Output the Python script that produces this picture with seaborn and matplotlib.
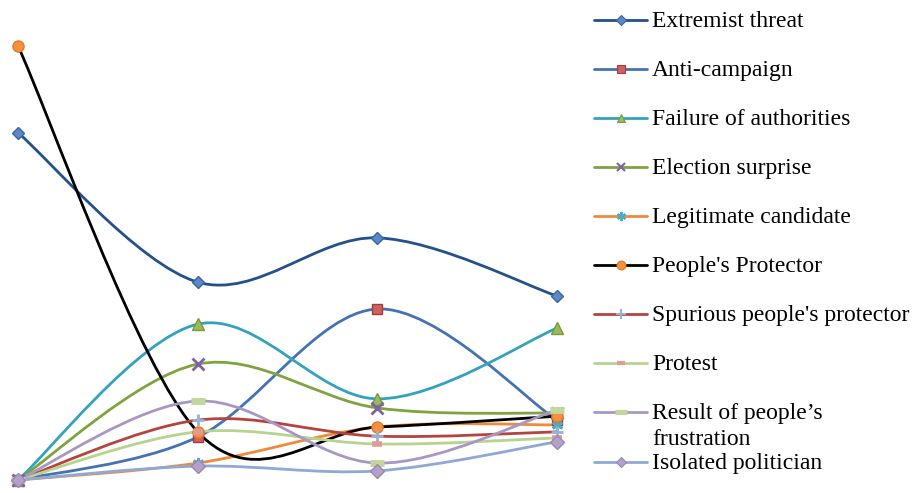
import numpy as np
import pandas as pd
import matplotlib
matplotlib.use('Agg')
import matplotlib.pyplot as plt
from matplotlib.path import Path
from matplotlib.patches import PathPatch
from matplotlib.lines import Line2D
import seaborn as sns

# four stages along the x axis (no tick labels in the original)
stages = [0, 1, 2, 3]

series_names = [
    "Extremist threat",
    "Anti-campaign",
    "Failure of authorities",
    "Election surprise",
    "Legitimate candidate",
    "People's Protector",
    "Spurious people's protector",
    "Protest",
    "Result of people\u2019s\nfrustration",
    "Isolated politician",
]

extremist_threat = [80.0, 45.6, 55.8, 42.4]
anti_campaign = [0.0, 9.9, 39.4, 13.8]
failure_of_authorities = [0.0, 35.9, 18.7, 35.0]
election_surprise = [0.0, 26.7, 16.6, 15.4]
legitimate_candidate = [0.0, 3.9, 12.2, 12.7]
peoples_protector = [100.0, 11.1, 12.2, 14.7]
spurious_protector = [0.0, 13.8, 10.1, 11.1]
protest = [0.0, 11.1, 8.3, 9.7]
peoples_frustration = [0.0, 18.2, 3.9, 16.1]
isolated_politician = [0.0, 3.2, 2.1, 8.8]

values = [extremist_threat, anti_campaign, failure_of_authorities, election_surprise,
          legitimate_candidate, peoples_protector, spurious_protector, protest,
          peoples_frustration, isolated_politician]

# line colour, marker, marker face, marker edge, marker size, marker edge width
styles = [
    ('#24508C', 'D', '#5B88C6', '#3A659F', 6, 1.0),
    ('#4472B2', 's', '#D0605C', '#A63C39', 7, 1.0),
    ('#33A2BC', '^', '#9BBB59', '#7A9A3E', 8, 1.0),
    ('#7FA43F', 'x', '#7E62A3', '#7E62A3', 8, 2.0),
    ('#F08A3A', (6, 2, 0), '#4BACC6', '#4BACC6', 8, 2.0),
    ('#000000', 'o', '#F5913E', '#E07B2A', 8, 1.0),
    ('#B5443F', '+', '#95B3D7', '#95B3D7', 9, 2.0),
    ('#B7D38E', '_', '#E09A98', '#E09A98', 7, 4.0),
    ('#A897C4', '_', '#C3D69B', '#C3D69B', 10, 5.0),
    ('#8FA9D6', 'D', '#B3A2C7', '#9A87B5', 7, 1.0),
]

df = pd.DataFrame({
    'stage': stages * len(series_names),
    'value': [v for vals in values for v in vals],
    'series': [name for name in series_names for _ in stages],
})


def smooth_path(xs, ys):
    # Excel-like smoothed line: cubic bezier through the points
    pts = np.column_stack([xs, ys]).astype(float)
    n = len(pts)
    verts = [pts[0]]
    codes = [Path.MOVETO]
    for i in range(n - 1):
        p0 = pts[i - 1] if i > 0 else pts[i]
        p1 = pts[i]
        p2 = pts[i + 1]
        p3 = pts[i + 2] if i + 2 < n else pts[i + 1]
        verts += [p1 + (p2 - p0) / 6.0, p2 - (p3 - p1) / 6.0, p2]
        codes += [Path.CURVE4] * 3
    return Path(verts, codes)


sns.set_style('white')
plt.rcParams['font.family'] = ['Liberation Serif', 'DejaVu Serif']

W, H = 918, 493
fig = plt.figure(figsize=(W / 100, H / 100), dpi=100)
ax = fig.add_axes([18 / W, 13 / H, 539 / W, 434 / H])
ax.set_xlim(0, 3)
ax.set_ylim(0, 100)
ax.axis('off')

for k, name in enumerate(series_names):
    color = styles[k][0]
    sub = df[df['series'] == name]
    patch = PathPatch(smooth_path(sub['stage'], sub['value']), facecolor='none',
                      edgecolor=color, lw=2.0, zorder=2, clip_on=False, capstyle='round')
    ax.add_patch(patch)

for k, name in enumerate(series_names):
    color, mk, mfc, mec, ms, mew = styles[k]
    sub = df[df['series'] == name]
    sns.lineplot(data=sub, x='stage', y='value', ax=ax, linestyle='', marker=mk,
                 markersize=ms, markerfacecolor=mfc, markeredgecolor=mec,
                 markeredgewidth=mew, color=mfc, clip_on=False, zorder=3, legend=False)

ax.set_xlabel('')
ax.set_ylabel('')

# legend drawn in figure pixels to match the original spacing
x0, x1, xt = 594 / W, 647 / W, 652 / W
for k, name in enumerate(series_names):
    color, mk, mfc, mec, ms, mew = styles[k]
    yc = 20 + 49 * k if k < 9 else 462
    yf = 1 - yc / H
    fig.add_artist(Line2D([x0, x1], [yf, yf], color=color, lw=2.0,
                          transform=fig.transFigure))
    fig.add_artist(Line2D([(x0 + x1) / 2], [yf], marker=mk, markersize=ms * 0.8,
                          markerfacecolor=mfc, markeredgecolor=mec,
                          markeredgewidth=max(mew * 0.75, 0.8), linestyle='',
                          transform=fig.transFigure))
    for j, line in enumerate(name.split('\n')):
        fig.text(xt, 1 - (yc + 7 + 26 * j) / H, line, fontsize=17, va='baseline',
                 ha='left', color='#000000')

fig.savefig('out.png', dpi=100)
